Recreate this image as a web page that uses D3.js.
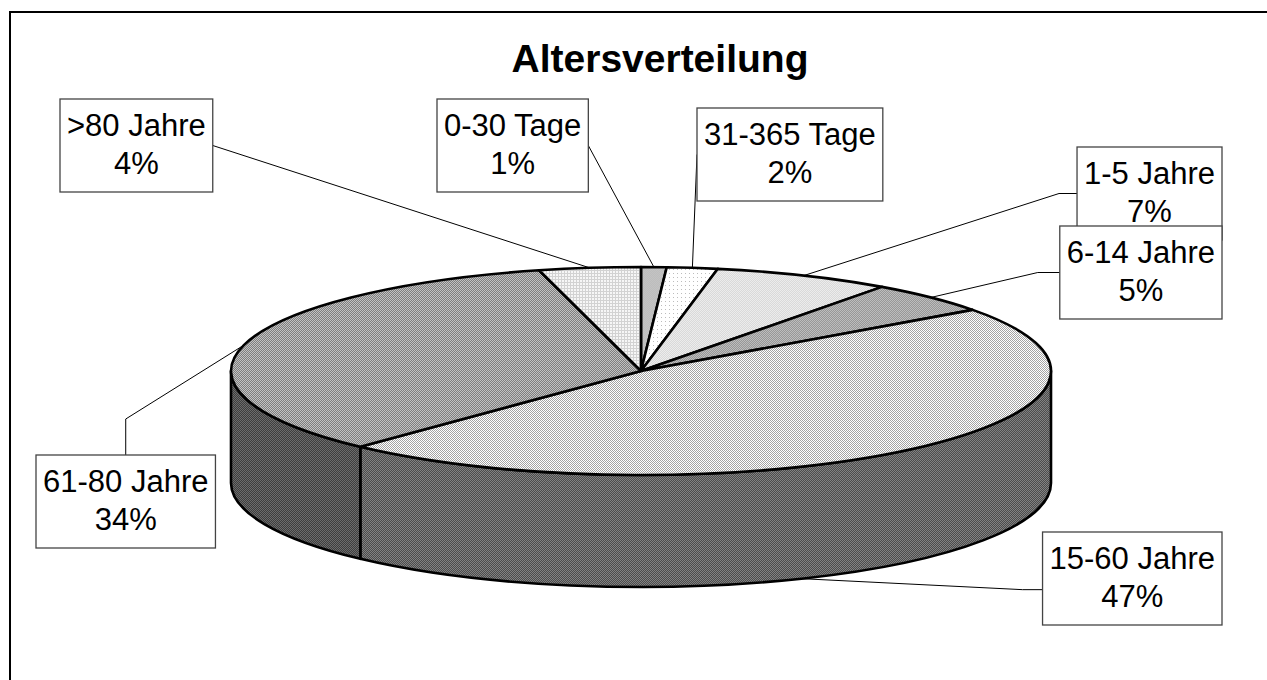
<!DOCTYPE html>
<html>
<head>
<meta charset="utf-8">
<script src="https://cdn.jsdelivr.net/npm/d3@7"></script>
<style>
  html, body { margin: 0; padding: 0; background: #fff; }
  svg { display: block; }
</style>
</head>
<body>
<svg id="chart" width="1267" height="680"></svg>
<script>
// Age groups, clockwise from 12 o'clock, and their share in percent
const categories = ["0-30 Tage", "31-365 Tage", "1-5 Jahre", "6-14 Jahre", "15-60 Jahre", "61-80 Jahre", ">80 Jahre"];
const shares = [1, 2, 7, 5, 47, 34, 4];
const chartTitle = "Altersverteilung";

// Placement of each data label box (anchor edge x, top y), the side its leader leaves from,
// where along that side (fraction of the box height) and the length of the short elbow
const labelLayout = [
  { anchor: "left",  x: 437,  top: 99,  attach: "right", at: 0.5,  elbow: 0 },
  { anchor: "left",  x: 697,  top: 108, attach: "left",  at: 0.5,  elbow: 0 },
  { anchor: "right", x: 1222, top: 147, attach: "left",  at: 0.5,  elbow: 18 },
  { anchor: "right", x: 1222, top: 226, attach: "left",  at: 0.5,  elbow: 22 },
  { anchor: "right", x: 1222, top: 532, attach: "left",  at: 0.62, elbow: 20 },
  { anchor: "left",  x: 36,   top: 455, attach: "top",   at: 0,    elbow: 36 },
  { anchor: "left",  x: 60,   top: 99,  attach: "right", at: 0.5,  elbow: 0 }
];

const W = 1267, H = 680;
const cx = 641, cy = 371, rx = 410, ry = 104, depth = 112;
const fontFamily = "'Liberation Sans', Arial, sans-serif";

const svg = d3.select("#chart");
svg.append("rect").attr("width", W).attr("height", H).attr("fill", "#fff");

// ---- dithered fill patterns (Excel-style monochrome textures) ----
const defs = svg.append("defs");
function checker(id, a, b) {
  const p = defs.append("pattern").attr("id", id).attr("patternUnits", "userSpaceOnUse")
    .attr("width", 2).attr("height", 2);
  p.append("rect").attr("width", 2).attr("height", 2).attr("fill", a);
  p.append("rect").attr("width", 1).attr("height", 1).attr("fill", b);
  p.append("rect").attr("x", 1).attr("y", 1).attr("width", 1).attr("height", 1).attr("fill", b);
}
checker("pSolid", "#bdbdbd", "#c3c3c3");
checker("pLight", "#d9d9d9", "#ececec");
checker("pMid", "#979797", "#bdbdbd");
checker("pBigTop", "#ffffff", "#a4a4a4");
checker("pBigSide", "#4c4c4c", "#828282");
checker("pOldTop", "#7e7e7e", "#c2c2c2");
checker("pOldSide", "#3e3e3e", "#6c6c6c");
{
  const p = defs.append("pattern").attr("id", "pDots").attr("patternUnits", "userSpaceOnUse")
    .attr("width", 4).attr("height", 4);
  p.append("rect").attr("width", 4).attr("height", 4).attr("fill", "#ffffff");
  p.append("rect").attr("x", 1).attr("y", 1).attr("width", 1).attr("height", 1).attr("fill", "#bcbcbc");
}
{
  const p = defs.append("pattern").attr("id", "pGrid").attr("patternUnits", "userSpaceOnUse")
    .attr("width", 3).attr("height", 3);
  p.append("rect").attr("width", 3).attr("height", 3).attr("fill", "#f6f6f6");
  p.append("rect").attr("width", 3).attr("height", 1).attr("fill", "#d2d2d2");
  p.append("rect").attr("width", 1).attr("height", 3).attr("fill", "#d2d2d2");
}
const topFills = ["pSolid", "pDots", "pLight", "pMid", "pBigTop", "pOldTop", "pGrid"];
const sideFills = ["pSolid", "pDots", "pLight", "pMid", "pBigSide", "pOldSide", "pGrid"];

// ---- outer frame ----
svg.append("rect").attr("x", 10).attr("y", 12).attr("width", 1400).attr("height", 800)
  .attr("fill", "none").attr("stroke", "#000").attr("stroke-width", 2);

// ---- title ----
svg.append("text").attr("x", 660).attr("y", 72).attr("text-anchor", "middle")
  .attr("font-family", fontFamily).attr("font-weight", "bold").attr("font-size", 39)
  .attr("fill", "#000").text(chartTitle);

// ---- pie geometry ----
const pie = d3.pie().sort(null).startAngle(0).endAngle(2 * Math.PI);
const arcs = pie(shares);

// angle (0 at 12 o'clock, clockwise) -> point on the tilted ellipse
const px = a => cx + rx * Math.sin(a);
const py = (a, dy = 0) => cy - ry * Math.cos(a) + dy;

function topPath(d) {
  const a0 = d.startAngle, a1 = d.endAngle;
  const large = a1 - a0 > Math.PI ? 1 : 0;
  return `M${cx},${cy}L${px(a0)},${py(a0)}A${rx},${ry} 0 ${large} 1 ${px(a1)},${py(a1)}Z`;
}
function sidePath(s, e) {
  const large = e - s > Math.PI ? 1 : 0;
  return `M${px(s)},${py(s)}A${rx},${ry} 0 ${large} 1 ${px(e)},${py(e)}` +
         `L${px(e)},${py(e, depth)}A${rx},${ry} 0 ${large} 0 ${px(s)},${py(s, depth)}Z`;
}

const leaderG = svg.append("g");
const pieG = svg.append("g");

// front wall pieces (only the part facing the viewer: PI/2 .. 3PI/2)
arcs.forEach((d, i) => {
  const s = Math.max(d.startAngle, Math.PI / 2);
  const e = Math.min(d.endAngle, 3 * Math.PI / 2);
  if (s < e) {
    pieG.append("path").attr("d", sidePath(s, e))
      .attr("fill", `url(#${sideFills[i]})`)
      .attr("stroke", "#000").attr("stroke-width", 2.6).attr("stroke-linejoin", "round");
  }
});

// top faces
pieG.selectAll("path.top").data(arcs).join("path").attr("class", "top")
  .attr("d", topPath)
  .attr("fill", (d, i) => `url(#${topFills[i]})`)
  .attr("stroke", "#000").attr("stroke-width", 2.6).attr("stroke-linejoin", "round");

// ---- data labels with leader lines ----
const fontSize = 31;
const lineGap = 38;
const padX = 7;
const labelG = svg.append("g");

arcs.forEach((d, i) => {
  const L = labelLayout[i];
  const g = labelG.append("g");
  const box = g.append("rect");
  const t1 = g.append("text").attr("font-family", fontFamily).attr("font-size", fontSize)
    .attr("text-anchor", "middle").attr("fill", "#000").text(categories[i]);
  const t2 = g.append("text").attr("font-family", fontFamily).attr("font-size", fontSize)
    .attr("text-anchor", "middle").attr("fill", "#000").text(shares[i] + "%");
  const w = Math.max(t1.node().getComputedTextLength(), t2.node().getComputedTextLength()) + 2 * padX;
  const h = 93;
  const left = L.anchor === "left" ? L.x : L.x - w;
  const mid = left + w / 2;
  box.attr("x", left).attr("y", L.top).attr("width", w).attr("height", h)
    .attr("fill", "#fff").attr("stroke", "#444").attr("stroke-width", 1.3);
  t1.attr("x", mid).attr("y", L.top + 37);
  t2.attr("x", mid).attr("y", L.top + 37 + lineGap);

  // point on the pie the leader points at
  const m = (d.startAngle + d.endAngle) / 2;
  let ex = px(m), ey = py(m);
  if (m > Math.PI / 2 && m < 3 * Math.PI / 2 && i === 4) {
    // the big front slice: leader meets the lower rim of its wall
    const a = m + 0.32;
    ex = px(a); ey = py(a, depth);
  }
  let ax, ay, pts;
  if (L.attach === "right") { ax = left + w; ay = L.top + h * L.at; pts = [[ax, ay], [ex, ey]]; }
  else if (L.attach === "left") {
    ax = left; ay = L.top + h * L.at;
    pts = L.elbow ? [[ax, ay], [ax - L.elbow, ay], [ex, ey]] : [[ax, ay], [ex, ey]];
  } else {
    ax = mid; ay = L.top;
    pts = [[ax, ay], [ax, ay - L.elbow], [ex, ey]];
  }
  leaderG.append("path").attr("d", d3.line()(pts))
    .attr("fill", "none").attr("stroke", "#000").attr("stroke-width", 1);
});
</script>
</body>
</html>
